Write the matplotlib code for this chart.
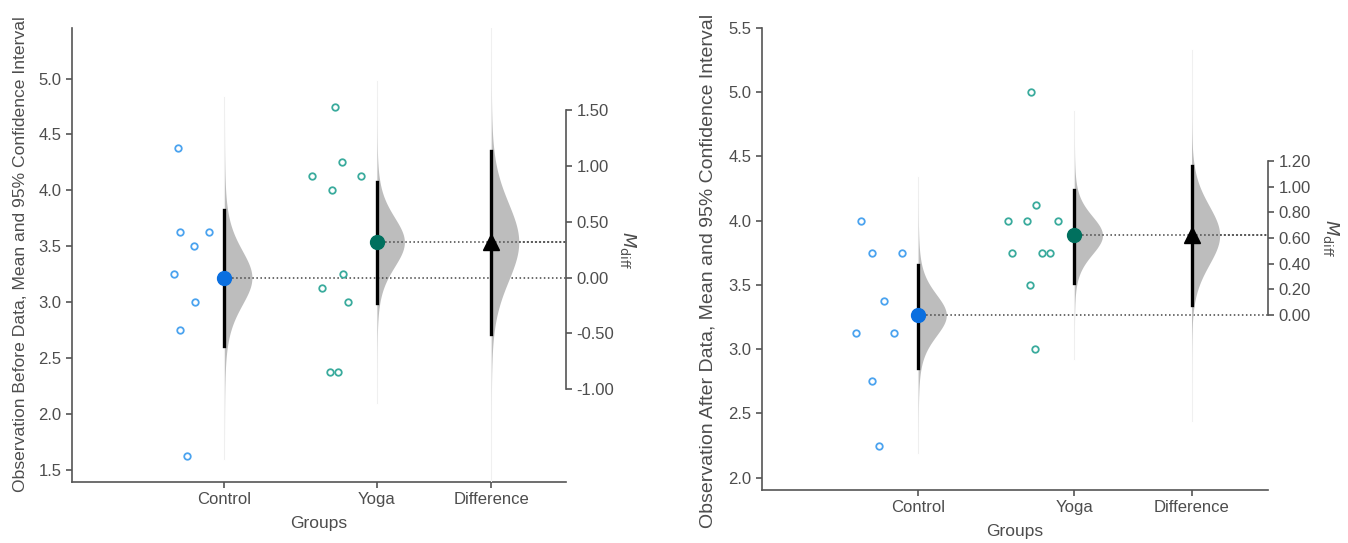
import numpy as np
import matplotlib.pyplot as plt
from matplotlib.transforms import blended_transform_factory

plt.rcParams['font.family'] = ['Liberation Sans', 'DejaVu Sans']
plt.rcParams['axes.unicode_minus'] = False

groups = ["Control", "Yoga", "Difference"]

# observations before
before_control = [4.375, 3.625, 3.625, 3.5, 3.25, 3.0, 2.75, 1.625]
before_yoga = [4.75, 4.25, 4.125, 4.125, 4.0, 3.25, 3.125, 3.0, 2.375, 2.375]
before_ci_control = [2.609, 3.824]
before_ci_yoga = [2.994, 4.077]
before_ci_diff = [-0.503, 1.135]

# observations after
after_control = [4.0, 3.75, 3.75, 3.375, 3.125, 3.125, 2.75, 2.25]
after_yoga = [5.0, 4.125, 4.0, 4.0, 4.0, 3.75, 3.75, 3.75, 3.5, 3.0]
after_ci_control = [2.855, 3.659]
after_ci_yoga = [3.519, 4.242]
after_ci_diff = [0.078, 1.161]

# horizontal scatter of the raw points (offset from the group line)
jit_before_control = [-0.305, -0.292, -0.103, -0.201, -0.331, -0.194, -0.290, -0.246]
jit_before_yoga = [-0.275, -0.231, -0.427, -0.105, -0.296, -0.220, -0.361, -0.188, -0.307, -0.253]
jit_after_control = [-0.365, -0.299, -0.104, -0.216, -0.397, -0.154, -0.299, -0.252]
jit_after_yoga = [-0.278, -0.244, -0.428, -0.303, -0.104, -0.402, -0.205, -0.156, -0.287, -0.254]

c_pt = "#4ba3ef"
c_mean = "#0a6fe0"
y_pt = "#3aab9d"
y_mean = "#00705e"
grey = "#555555"
pos = [1, 2, 2.75]


def curve(ax, x0, m, ci, df, width=0.18):
    se = (ci[1] - ci[0]) / 2 / 2.25
    y = np.linspace(m - 6 * se, m + 6 * se, 400)
    z = (y - m) / se
    d = (1 + z ** 2 / df) ** (-(df + 1) / 2)
    ax.plot([x0, x0], [y[0], y[-1]], color="#f1f1f1", lw=0.8, zorder=1)
    ax.fill_betweenx(y, x0, x0 + width * d, color="#bdbdbd", lw=0, zorder=2)


def panel(ax, ctrl, yoga, ci_c, ci_y, ci_d, jc, jy, ylim, yticks, dticks, ylabel, ylsize, ylpos):
    mc = np.mean(ctrl)
    my = np.mean(yoga)
    md = my - mc
    ax.set_xlim(0, 3.24)
    ax.set_ylim(*ylim)
    ax2 = ax.twinx()
    ax2.set_ylim(ylim[0] - mc, ylim[1] - mc)

    ax.scatter(pos[0] + np.array(jc), ctrl, s=22, facecolor="white", edgecolor=c_pt, lw=1.3, zorder=3)
    ax.scatter(pos[1] + np.array(jy), yoga, s=22, facecolor="white", edgecolor=y_pt, lw=1.3, zorder=3)

    curve(ax, pos[0], mc, ci_c, len(ctrl) - 1)
    curve(ax, pos[1], my, ci_y, len(yoga) - 1)
    curve(ax2, pos[2], md, ci_d, len(ctrl) + len(yoga) - 2)

    ax.plot([pos[0], 3.24], [mc, mc], ls=":", color="#444444", lw=1.1, zorder=2)
    ax.plot([pos[1], 3.24], [my, my], ls=":", color="#444444", lw=1.1, zorder=2)
    ax2.plot([pos[2], 3.24], [md, md], ls=":", color="#444444", lw=1.1, zorder=2)

    ax.plot([pos[0], pos[0]], ci_c, color="black", lw=2.4, zorder=4)
    ax.plot([pos[1], pos[1]], ci_y, color="black", lw=2.4, zorder=4)
    ax2.plot([pos[2], pos[2]], ci_d, color="black", lw=2.4, zorder=4)
    ax.plot(pos[0], mc, "o", color=c_mean, ms=10, zorder=5)
    ax.plot(pos[1], my, "o", color=y_mean, ms=10, zorder=5)
    ax2.plot(pos[2], md, "^", color="black", ms=12, zorder=5)

    for a in (ax, ax2):
        a.spines["top"].set_visible(False)
        for s in a.spines.values():
            s.set_color(grey)
            s.set_linewidth(1.2)
        a.tick_params(colors=grey, labelsize=12, labelcolor="#4d4d4d", width=1.2, length=4)
    ax.spines["right"].set_visible(False)
    ax2.spines["left"].set_visible(False)
    ax2.spines["bottom"].set_visible(False)
    ax2.spines["right"].set_bounds(dticks[0], dticks[-1])

    ax.set_xticks(pos)
    ax.set_xticklabels(groups)
    ax.set_yticks(yticks)
    ax.set_yticklabels(["%.1f" % v for v in yticks])
    ax2.set_yticks(dticks)
    ax2.set_yticklabels(["%.2f" % v for v in dticks])
    ax.set_xlabel("Groups", fontsize=12.5, color="#4d4d4d", labelpad=6)
    ax.set_ylabel(ylabel, fontsize=ylsize, color="#4d4d4d")
    ax.yaxis.set_label_coords(*ylpos)

    tr = blended_transform_factory(ax2.transAxes, ax2.transData)
    ax2.text(1.125, (dticks[0] + dticks[-1]) / 2, r"$M_{\mathrm{diff}}$", transform=tr,
             rotation=270, ha="center", va="center", fontsize=13, color="#4d4d4d")


fig = plt.figure(figsize=(13.48, 5.43), dpi=100)
ax_l = fig.add_axes([0.0534, 0.1123, 0.3665, 0.8361])
ax_r = fig.add_axes([0.5653, 0.0976, 0.3754, 0.8508])

panel(ax_l, before_control, before_yoga, before_ci_control, before_ci_yoga, before_ci_diff,
      jit_before_control, jit_before_yoga, (1.389, 5.453),
      np.arange(1.5, 5.01, 0.5), np.arange(-1.0, 1.51, 0.5),
      "Observation Before Data, Mean and 95% Confidence Interval", 12.6, (-0.09, 0.502))
panel(ax_r, after_control, after_yoga, after_ci_control, after_ci_yoga, after_ci_diff,
      jit_after_control, jit_after_yoga, (1.904, 5.5),
      np.arange(2.0, 5.51, 0.5), np.arange(0.0, 1.21, 0.2),
      "Observation After Data, Mean and 95% Confidence Interval", 14, (-0.089, 0.474))

fig.savefig("out.png", dpi=100)
